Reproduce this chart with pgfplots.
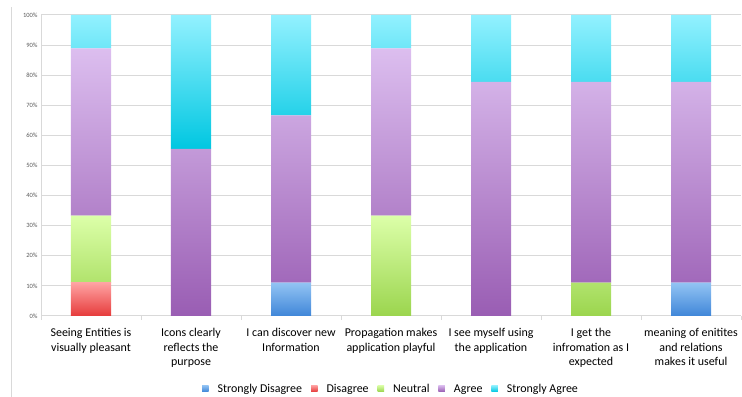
\documentclass[border=0pt]{standalone}
\usepackage{pgfplots}
\pgfplotsset{compat=1.18}
\usepackage{fontspec}
\setmainfont{Carlito}

% Gradient colours for the five answer levels (dark at the bottom, light at the top)
\definecolor{sdB}{HTML}{3F86D8}\definecolor{sdT}{HTML}{93C4F4}
\definecolor{dB}{HTML}{E63B3B}\definecolor{dT}{HTML}{FFA3A3}
\definecolor{nB}{HTML}{9BD54E}\definecolor{nT}{HTML}{DCFFA9}
\definecolor{aB}{HTML}{995DB3}\definecolor{aT}{HTML}{DCBEEF}
\definecolor{saB}{HTML}{00C7E1}\definecolor{saT}{HTML}{93F1FF}
\definecolor{gridgray}{HTML}{D9D9D9}
\definecolor{ticktext}{HTML}{595959}

\begin{document}
\begin{tikzpicture}
\useasboundingbox (0,0) rectangle (742bp,397bp);
% chart frame on the left
\draw[gridgray, line width=1bp] (11bp,0) -- (11bp,390bp);
\begin{axis}[
  at={(41bp,81bp)}, anchor=south west,
  scale only axis, width=700bp, height=301bp,
  ybar stacked, bar width=40bp,
  xmin=-0.5, xmax=6.5, ymin=0, ymax=100,
  ytick={0,10,...,100},
  yticklabel={\pgfmathprintnumber{\tick}\%},
  /pgf/number format/assume math mode=true,
  yticklabel style={font=\fontsize{6.5}{7}\selectfont, text=ticktext},
  ymajorgrids, grid style={gridgray, line width=1bp},
  xtick={0,...,6},
  xticklabels={
    {Seeing Entities is\\visually pleasant},
    {Icons clearly\\reflects the\\purpose},
    {I can discover new\\Information},
    {Propagation makes\\application playful},
    {I see myself using\\the application},
    {I get the\\infromation as I\\expected},
    {meaning of enitites\\and relations\\makes it useful}},
  xticklabel style={font=\fontsize{12}{14.5}\selectfont, align=center, text=black, yshift=-9bp},
  major x tick style={draw=none},
  minor xtick={-0.5,0.5,...,6.5},
  minor x tick style={gridgray, line width=1bp},
  tick align=outside, minor tick length=4bp, major tick length=0pt,
  y tick style={draw=none},
  axis x line*=bottom, axis y line*=left,
  axis line style={gridgray, line width=1bp},
  x axis line style={-}, y axis line style={-},
  legend style={at={(0.5,-0.243)}, anchor=center, draw=none,
    font=\fontsize{12}{14}\selectfont, column sep=7bp},
  legend columns=5,
  legend image code/.code={\path[#1] (0bp,-2.5bp) rectangle (6.5bp,4bp);},
]
% Strongly Disagree
\addplot[draw=none, bottom color=sdB, top color=sdT] coordinates
  {(0,0) (1,0) (2,11.11) (3,0) (4,0) (5,0) (6,11.11)};
% Disagree
\addplot[draw=none, bottom color=dB, top color=dT] coordinates
  {(0,11.11) (1,0) (2,0) (3,0) (4,0) (5,0) (6,0)};
% Neutral
\addplot[draw=none, bottom color=nB, top color=nT] coordinates
  {(0,22.22) (1,0) (2,0) (3,33.33) (4,0) (5,11.11) (6,0)};
% Agree
\addplot[draw=none, bottom color=aB, top color=aT] coordinates
  {(0,55.56) (1,55.56) (2,55.56) (3,55.56) (4,77.78) (5,66.67) (6,66.67)};
% Strongly Agree
\addplot[draw=none, bottom color=saB, top color=saT] coordinates
  {(0,11.11) (1,44.44) (2,33.33) (3,11.11) (4,22.22) (5,22.22) (6,22.22)};
\legend{Strongly Disagree, Disagree, Neutral, Agree, Strongly Agree}
\end{axis}
\end{tikzpicture}
\end{document}
